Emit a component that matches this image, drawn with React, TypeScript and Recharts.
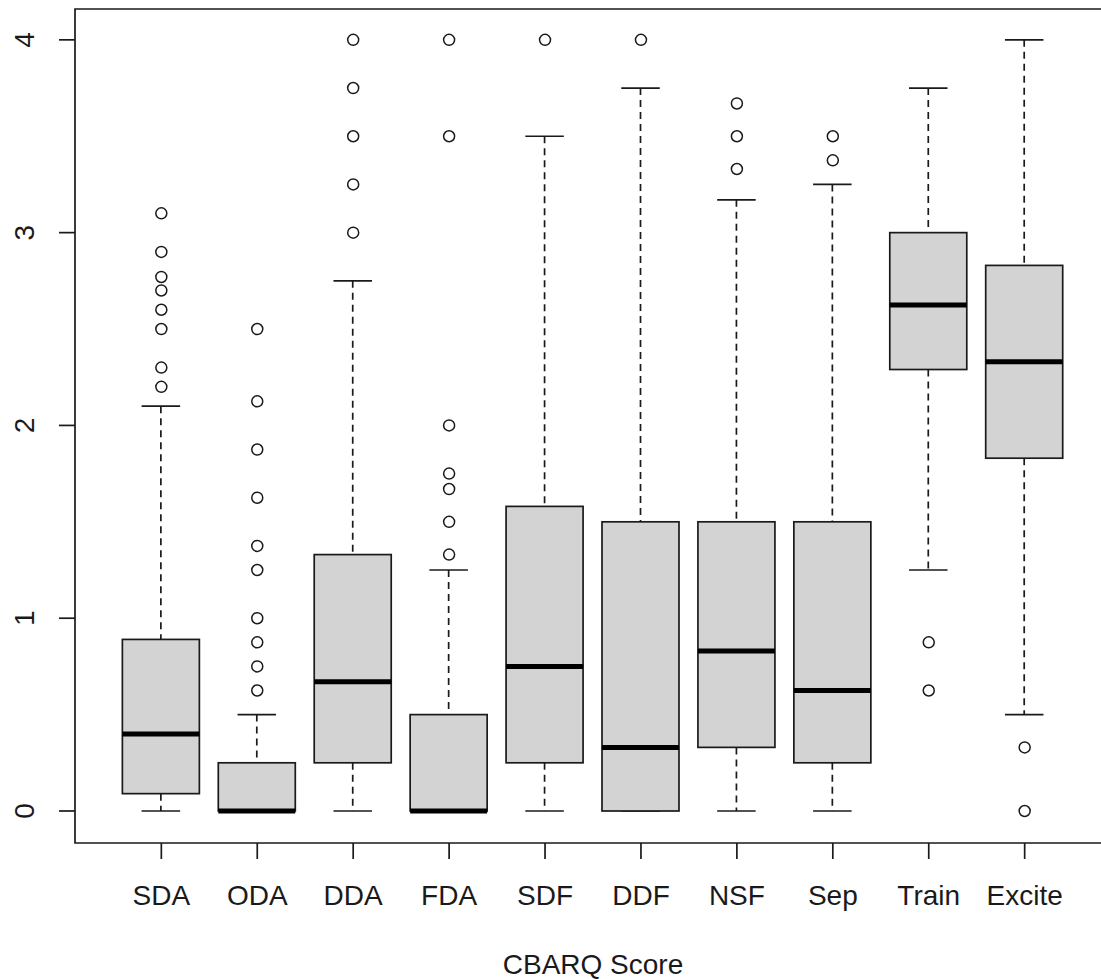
import { ComposedChart, Bar, Scatter, XAxis, YAxis, ReferenceArea } from 'recharts';

// CBARQ subscale scores, one box per subscale
const categories = ['SDA', 'ODA', 'DDA', 'FDA', 'SDF', 'DDF', 'NSF', 'Sep', 'Train', 'Excite'];
const lowerWhisker = [0, 0, 0, 0, 0, 0, 0, 0, 1.25, 0.5];
const lowerQuartile = [0.09, 0, 0.25, 0, 0.25, 0, 0.33, 0.25, 2.29, 1.83];
const medians = [0.4, 0, 0.67, 0, 0.75, 0.33, 0.83, 0.625, 2.625, 2.33];
const upperQuartile = [0.89, 0.25, 1.33, 0.5, 1.58, 1.5, 1.5, 1.5, 3.0, 2.83];
const upperWhisker = [2.1, 0.5, 2.75, 1.25, 3.5, 3.75, 3.17, 3.25, 3.75, 4.0];
const outliers = [
  [3.1, 2.9, 2.77, 2.7, 2.6, 2.5, 2.3, 2.2],
  [2.5, 2.125, 1.875, 1.625, 1.375, 1.25, 1.0, 0.875, 0.75, 0.625],
  [4.0, 3.75, 3.5, 3.25, 3.0],
  [4.0, 3.5, 2.0, 1.75, 1.67, 1.5, 1.33],
  [4.0],
  [4.0],
  [3.67, 3.5, 3.33],
  [3.5, 3.375],
  [0.875, 0.625],
  [0.33, 0],
];
const yTicks = [0, 1, 2, 3, 4];

const boxes = categories.map((name, i) => ({
  x: i + 1,
  name,
  lo: lowerWhisker[i],
  q1: lowerQuartile[i],
  med: medians[i],
  q3: upperQuartile[i],
  hi: upperWhisker[i],
}));

const outlierPoints = outliers.flatMap((vals, i) => vals.map((v) => ({ x: i + 1, y: v })));

const FONT = '"Liberation Sans", Arial, Helvetica, sans-serif';
const INK = '#1a1a1a';

// The bar spans lo..hi, so the rest of the box is placed along that same span
const BoxShape = (props: any) => {
  const { x, y, width, height, payload } = props;
  const { lo, q1, med, q3, hi } = payload;
  const span = hi - lo;
  const py = (v: number) => y + (height * (hi - v)) / span;
  const cx = x + width / 2;
  const capHalf = width / 4;
  return (
    <g>
      <line x1={cx} x2={cx} y1={py(hi)} y2={py(q3)} stroke={INK} strokeWidth={1.7} strokeDasharray="7 5" />
      <line x1={cx} x2={cx} y1={py(q1)} y2={py(lo)} stroke={INK} strokeWidth={1.7} strokeDasharray="7 5" />
      <line x1={cx - capHalf} x2={cx + capHalf} y1={py(hi)} y2={py(hi)} stroke={INK} strokeWidth={1.7} />
      <line x1={cx - capHalf} x2={cx + capHalf} y1={py(lo)} y2={py(lo)} stroke={INK} strokeWidth={1.7} />
      <rect x={x} y={py(q3)} width={width} height={py(q1) - py(q3)} fill="#d3d3d3" stroke={INK} strokeWidth={1.7} />
      <line x1={x} x2={x + width} y1={py(med)} y2={py(med)} stroke="#000" strokeWidth={5} />
    </g>
  );
};

const OutlierShape = (props: any) => (
  <circle cx={props.cx} cy={props.cy} r={5.5} fill="none" stroke={INK} strokeWidth={1.5} />
);

const XTick = ({ x, y, payload }: any) => (
  <text x={x} y={y + 46} textAnchor="middle" fontFamily={FONT} fontSize={28} fill={INK}>
    {categories[payload.value - 1]}
  </text>
);

const YTick = ({ x, y, payload }: any) => (
  <text
    x={x - 25}
    y={y}
    transform={`rotate(-90, ${x - 25}, ${y})`}
    textAnchor="middle"
    fontFamily={FONT}
    fontSize={28}
    fill={INK}
  >
    {payload.value}
  </text>
);

export default function App() {
  return (
    <div style={{ position: 'absolute', left: 0, top: 0, width: 1101, height: 979, overflow: 'hidden', background: '#fff' }}>
      <ComposedChart width={1112} height={979} data={boxes} margin={{ top: 9, right: 1, left: 0, bottom: 0 }}>
        <XAxis
          dataKey="x"
          type="number"
          domain={[0.1, 10.9]}
          ticks={categories.map((_, i) => i + 1)}
          allowDataOverflow
          height={136}
          tickSize={16}
          tickMargin={0}
          axisLine={false}
          tickLine={{ stroke: INK, strokeWidth: 1.7 }}
          tick={<XTick />}
          interval={0}
          label={({ viewBox }: any) => (
            <text x={viewBox.x + viewBox.width / 2} y={974} textAnchor="middle" fontFamily={FONT} fontSize={28} fill={INK}>
              CBARQ Score
            </text>
          )}
        />
        <YAxis
          type="number"
          domain={[-0.166, 4.16]}
          ticks={yTicks}
          allowDataOverflow
          width={75}
          tickSize={16}
          tickMargin={0}
          axisLine={false}
          tickLine={{ stroke: INK, strokeWidth: 1.7 }}
          tick={<YTick />}
          interval={0}
        />
        <Bar
          dataKey={(d: any) => [d.lo, d.hi]}
          barSize={77}
          isAnimationActive={false}
          shape={(p: any) => <BoxShape {...p} />}
        />
        <Scatter
          data={outlierPoints}
          dataKey="y"
          isAnimationActive={false}
          shape={(p: any) => <OutlierShape {...p} />}
        />
        <ReferenceArea
          x1={0.1}
          x2={10.9}
          y1={-0.166}
          y2={4.16}
          fill="none"
          stroke={INK}
          strokeWidth={1.7}
          ifOverflow="visible"
        />
      </ComposedChart>
    </div>
  );
}
